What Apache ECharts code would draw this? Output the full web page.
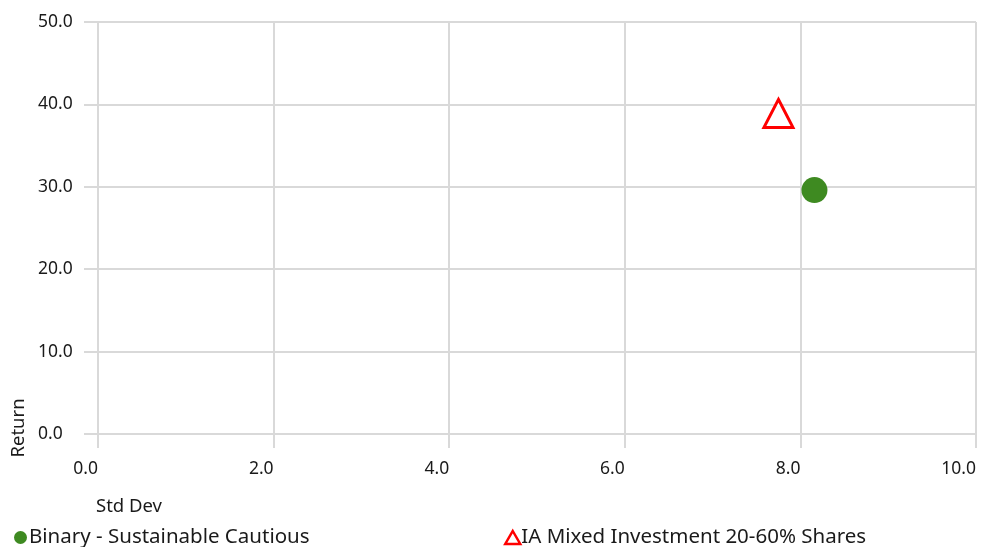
<!DOCTYPE html>
<html>
<head>
<meta charset="utf-8">
<script src="https://cdn.jsdelivr.net/npm/echarts@6/dist/echarts.min.js"></script>
<style>
  html, body { margin: 0; padding: 0; background: #fff; }
  #chart { width: 991px; height: 547px; }
</style>
</head>
<body>
<div id="chart"></div>
<script>
// Risk/return points
var seriesNames = ['Binary - Sustainable Cautious', 'IA Mixed Investment 20-60% Shares'];
var stdDev = [8.16, 7.75];
var returns = [29.6, 38.9];

var xAxisName = 'Std Dev';
var yAxisName = 'Return';

var FONT = '"Noto Sans", "Open Sans", sans-serif';
var GRID = '#d9d9d9';
var TEXT = '#1a1a1a';

var chart = echarts.init(document.getElementById('chart'), null, { renderer: 'canvas' });

chart.setOption({
  animation: false,
  textStyle: { fontFamily: FONT },
  grid: { left: 98, right: 15, top: 22, bottom: 113, containLabel: false },
  xAxis: {
    type: 'value', min: 0, max: 10, interval: 2,
    axisLine: { show: true, lineStyle: { color: GRID, width: 2 } },
    axisTick: { show: true, length: 14, lineStyle: { color: GRID, width: 2 } },
    splitLine: { show: true, lineStyle: { color: GRID, width: 2 } },
    axisLabel: {
      align: 'right', margin: 26, color: TEXT, fontSize: 17.5, fontFamily: FONT,
      formatter: function (v) { return v.toFixed(1); }
    }
  },
  yAxis: {
    type: 'value', min: 0, max: 50, interval: 10,
    axisLine: { show: true, lineStyle: { color: GRID, width: 2 } },
    axisTick: { show: true, length: 14, lineStyle: { color: GRID, width: 2 } },
    splitLine: { show: true, lineStyle: { color: GRID, width: 2 } },
    axisLabel: {
      align: 'left', margin: 60, color: TEXT, fontSize: 17.5, fontFamily: FONT,
      formatter: function (v) { return v.toFixed(1); }
    }
  },
  legend: [
    {
      left: 9, top: 522, itemWidth: 13, itemHeight: 13, itemGap: 4,
      textStyle: { color: TEXT, fontSize: 20.5, fontFamily: FONT, padding: [0, 0, 0, -3] },
      data: [{ name: seriesNames[0], icon: 'circle' }]
    },
    {
      left: 499, top: 522, itemWidth: 15, itemHeight: 13,
      textStyle: { color: TEXT, fontSize: 20.5, fontFamily: FONT, padding: [0, 0, 0, -4] },
      data: [{ name: seriesNames[1], icon: 'triangle',
               itemStyle: { color: '#ffffff', borderColor: '#ff0000', borderWidth: 2.5 } }]
    }
  ],
  graphic: [
    {
      type: 'text', left: 96, top: 497,
      style: { text: xAxisName, fill: TEXT, font: '18.5px ' + FONT }
    },
    {
      type: 'text', x: 19, y: 428, rotation: Math.PI / 2,
      style: { text: yAxisName, fill: TEXT, font: '18.5px ' + FONT, align: 'center', verticalAlign: 'middle' }
    }
  ],
  series: [
    {
      name: seriesNames[0], type: 'scatter', symbol: 'circle', symbolSize: 26,
      itemStyle: { color: '#3e8a21', opacity: 1 },
      data: [[stdDev[0], returns[0]]]
    },
    {
      name: seriesNames[1], type: 'scatter', symbol: 'triangle', symbolSize: [29, 28],
      itemStyle: { color: '#ffffff', borderColor: '#ff0000', borderWidth: 3, opacity: 1 },
      data: [[stdDev[1], returns[1]]]
    }
  ]
});
</script>
</body>
</html>
